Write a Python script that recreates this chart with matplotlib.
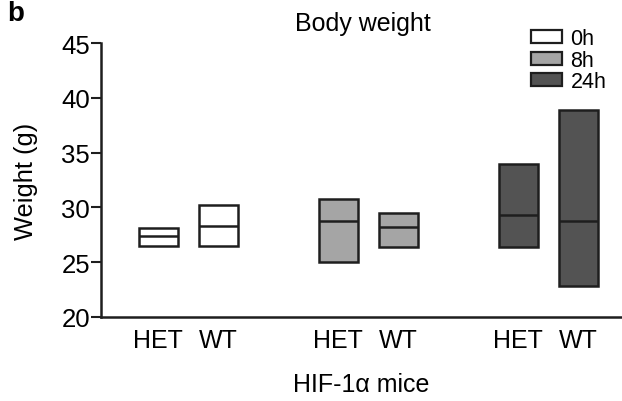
import numpy as np
import matplotlib.pyplot as plt
from matplotlib.patches import Patch

plt.rcParams['font.family'] = ['Liberation Sans', 'DejaVu Sans']

# Floating bars: min / median / max body weight per genotype and time point
times = ['0h', '8h', '24h']
genotypes = ['HET', 'WT']
w_min = [26.5, 26.5, 25.0, 26.35, 26.4, 22.85]
w_med = [27.4, 28.3, 28.75, 28.2, 29.3, 28.75]
w_max = [28.1, 30.25, 30.8, 29.5, 33.95, 38.85]
colors = ['white', '#a5a5a5', '#535353']

fig = plt.figure(figsize=(6.22, 4.02), dpi=100)
ax = fig.add_axes([0.1624, 0.209, 0.8376, 0.6815])

pos = []
for g in range(len(times)):
    for k in range(len(genotypes)):
        pos.append(3 * g + k)
pos = np.array(pos, dtype=float)
bar_w = 0.65
fc = [colors[i // 2] for i in range(len(pos))]

ax.bar(pos, np.array(w_max) - np.array(w_min), bottom=w_min, width=bar_w,
       color=fc, edgecolor='#1e1e1e', linewidth=1.8, zorder=2)
ax.hlines(w_med, pos - bar_w / 2, pos + bar_w / 2, color='#1e1e1e', lw=1.8, zorder=3)

ax.set_ylim(20, 45)
ax.set_yticks([20, 25, 30, 35, 40, 45])
ax.set_xlim(-0.95, 7.73)
ax.set_xticks(pos)
ax.set_xticklabels(genotypes * len(times))
ax.tick_params(axis='y', length=7, width=1.5, labelsize=18.5, pad=1, color='#1e1e1e')
ax.tick_params(axis='x', length=0, labelsize=18, pad=8)

for s in ['top', 'right']:
    ax.spines[s].set_visible(False)
for s in ['left', 'bottom']:
    ax.spines[s].set_linewidth(1.8)
    ax.spines[s].set_color('#1e1e1e')

ax.set_ylabel('Weight (g)', fontsize=18.3, labelpad=17)
ax.set_xlabel('HIF-1\u03b1 mice', fontsize=18, labelpad=14)

fig.text(0.584, 0.94, 'Body weight', fontsize=18, ha='center', va='center')
fig.text(0.012, 0.997, 'b', fontsize=20, fontweight='bold', ha='left', va='top')

handles = [Patch(facecolor=c, edgecolor='#1e1e1e', linewidth=1.6) for c in colors]
fig.legend(handles, times, loc='upper left', bbox_to_anchor=(0.853, 0.927),
           frameon=False, fontsize=15.5, handlelength=1.45, handleheight=0.55,
           handletextpad=0.4, labelspacing=0.02, borderpad=0, borderaxespad=0)

fig.savefig('out.png', dpi=100)
